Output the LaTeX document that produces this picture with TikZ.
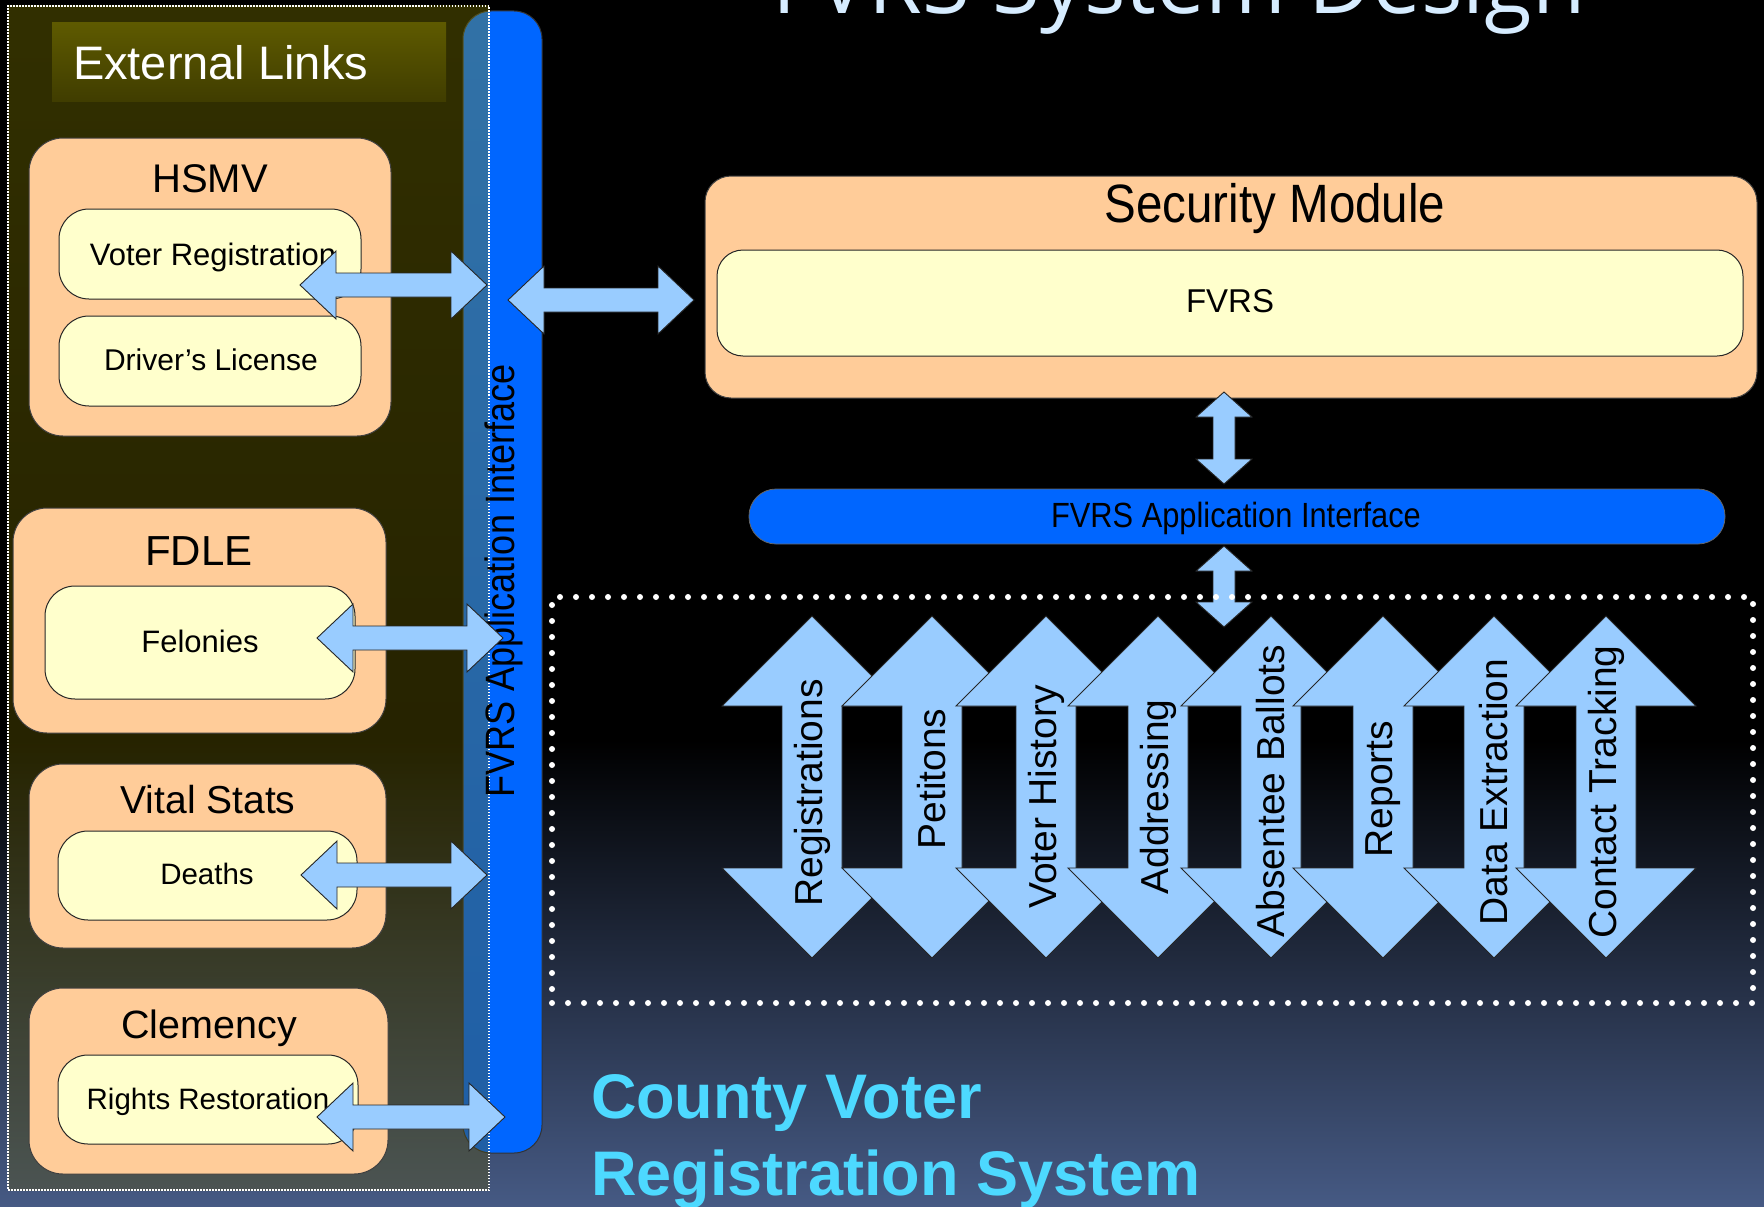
\documentclass[tikz,border=0pt]{standalone}
\usepackage{fontspec}
\setmainfont{Liberation Sans}
\newfontfamily\narrowf[FakeStretch=0.88]{Liberation Sans}
\newfontfamily\titlef{Open Sans}
\usetikzlibrary{calc}
\definecolor{peach}{HTML}{FFCC99}
\definecolor{lightyel}{HTML}{FFFFCC}
\definecolor{arrowblue}{HTML}{99CCFF}
\definecolor{barblue}{HTML}{0066FF}
\definecolor{paneltop}{RGB}{143,137,0}
\definecolor{panelbot}{RGB}{90,80,0}
\definecolor{hdrtop}{RGB}{94,90,0}
\definecolor{hdrbot}{RGB}{64,61,0}
\definecolor{bgbottom}{RGB}{70,90,132}
\definecolor{countycyan}{RGB}{77,217,255}
\definecolor{titlecol}{RGB}{214,236,255}
\tikzset{
  box/.style={inner sep=0pt, outer sep=0pt, anchor=north west},
  outerbox/.style={box, draw=black!75, line width=1pt, fill=peach, rounded corners=34pt},
  innerbox/.style={box, draw=black!85, line width=1pt, fill=lightyel, rounded corners=30pt},
  lbl/.style={inner sep=0pt, outer sep=0pt, anchor=base, text=black},
  fatarrow/.style={draw=black!85, line width=0.9pt, fill=arrowblue, line join=miter},
}
% horizontal fat double arrow between two named points (left tip, right tip)
\newcommand\hfat[2]{%
  \draw[fatarrow] let \p1=(#1), \p2=(#2) in
  (\x1,\y1) -- (\x1+36pt,\y1+34pt) -- (\x1+36pt,\y1+12pt) -- (\x2-36pt,\y1+12pt)
  -- (\x2-36pt,\y1+34pt) -- (\x2,\y1) -- (\x2-36pt,\y1-34pt) -- (\x2-36pt,\y1-12pt)
  -- (\x1+36pt,\y1-12pt) -- (\x1+36pt,\y1-34pt) -- cycle;}
% vertical fat double arrow: top tip, bottom tip, head length, head half width, shaft half width
\newcommand\vfat[5]{%
  \draw[fatarrow] let \p1=(#1), \p2=(#2) in
  (\x1,\y1) -- (\x1+#4,\y1-#3) -- (\x1+#5,\y1-#3) -- (\x1+#5,\y2+#3)
  -- (\x1+#4,\y2+#3) -- (\x1,\y2) -- (\x1-#4,\y2+#3) -- (\x1-#5,\y2+#3)
  -- (\x1-#5,\y1-#3) -- (\x1-#4,\y1-#3) -- cycle;}
\begin{document}
\begin{tikzpicture}[x=1pt,y=-1pt]
\useasboundingbox (0,0) rectangle (1764,1207);
\fill[black] (0,0) rectangle (1764,1207);
\shade[top color=black,bottom color=bgbottom] (0,740) rectangle (1764,1207);

% title (cut off at the top, as in the reference)
\node[lbl, anchor=base west, text=titlecol, font=\titlef\fontsize{87}{100}\selectfont] (title) at (772,14) {FVRS System Design};

% vertical application interface bar
\node[box, fill=barblue, draw=black!80, line width=1pt, rounded corners=28pt,
      minimum width=79pt, minimum height=1142pt] (vbar) at (463,11) {};

% external links panel
\node[box, top color=paneltop, middle color=paneltop, bottom color=panelbot, fill opacity=0.35,
      minimum width=481pt, minimum height=1184pt] (panelfill) at (8,6) {};
\node[box, draw=white, line width=1.2pt, dash pattern=on 1.5pt off 1.5pt,
      minimum width=481pt, minimum height=1184pt] (panel) at (8,6) {};
\node[box, top color=hdrtop, bottom color=hdrbot, minimum width=394pt, minimum height=78pt] (hdr) at (52,23) {};
\node[lbl, anchor=base west, text=white, font=\fontsize{47}{56}\selectfont] (hdrtxt) at (73,80) {External Links};

% HSMV
\node[outerbox, minimum width=362pt, minimum height=298pt] (hsmv) at (29,138) {};
\node[lbl, font=\fontsize{40}{48}\selectfont] (hsmvt) at (210,192) {HSMV};
\node[innerbox, minimum width=302pt, minimum height=90pt] (vreg) at (59,209) {};
\node[lbl, font=\fontsize{31}{37}\selectfont] (vregt) at (213,265) {Voter Registration};
\node[innerbox, minimum width=302pt, minimum height=90pt] (dlic) at (59,316) {};
\node[lbl, font=\fontsize{30}{36}\selectfont] (dlict) at (211,370) {Driver’s License};

% FDLE
\node[outerbox, minimum width=373pt, minimum height=225pt] (fdle) at (13,508) {};
\node[lbl, font=\fontsize{42}{50}\selectfont] (fdlet) at (199,565) {FDLE};
\node[innerbox, minimum width=310pt, minimum height=113pt] (fel) at (45,586) {};
\node[lbl, font=\fontsize{31}{37}\selectfont] (felt) at (200,652) {Felonies};

% Vital Stats
\node[outerbox, minimum width=357pt, minimum height=184pt] (vital) at (29,764) {};
\node[lbl, font=\fontsize{39}{47}\selectfont] (vitalt) at (208,813) {Vital Stats};
\node[innerbox, minimum width=299pt, minimum height=89pt] (deaths) at (58,831) {};
\node[lbl, font=\fontsize{29.5}{35}\selectfont] (deathst) at (207,884) {Deaths};

% Clemency
\node[outerbox, minimum width=359pt, minimum height=186pt] (clem) at (29,988) {};
\node[lbl, font=\fontsize{39.5}{47}\selectfont] (clemt) at (209,1038) {Clemency};
\node[innerbox, minimum width=300pt, minimum height=89pt] (rights) at (58,1055) {};
\node[lbl, font=\fontsize{29.5}{35}\selectfont] (rightst) at (208,1109) {Rights Restoration};

% vertical bar text
\node[lbl, rotate=90, font=\narrowf\fontsize{41}{48}\selectfont] (vbart) at (514,581) {FVRS Application Interface};

% arrows from external links to the interface bar
\coordinate (hsmvA) at (300,285); \coordinate (hsmvB) at (487,285);
\coordinate (felA) at (317,638);  \coordinate (felB) at (503,638);
\coordinate (deaA) at (301,875);  \coordinate (deaB) at (487,875);
\coordinate (rigA) at (317,1117); \coordinate (rigB) at (505,1117);
\hfat{hsmvA}{hsmvB}
\hfat{felA}{felB}
\hfat{deaA}{deaB}
\hfat{rigA}{rigB}

% security module
\node[outerbox, rounded corners=26pt, minimum width=1052pt, minimum height=222pt] (sec) at (705,176) {};
\node[lbl, font=\narrowf\fontsize{54}{64}\selectfont] (sect) at (1275,222) {Security Module};
\node[innerbox, rounded corners=26pt, minimum width=1026pt, minimum height=106pt] (fvrs) at (717,250) {};
\node[lbl, font=\fontsize{33}{40}\selectfont] (fvrst) at (1230,312) {FVRS};

% arrow bar <-> security module
\coordinate (secA) at (508,300); \coordinate (secB) at (694,300);
\hfat{secA}{secB}

% horizontal interface bar
\node[box, fill=barblue, draw=black!60, line width=0.8pt, rounded corners=27pt,
      minimum width=976pt, minimum height=55pt] (ibar) at (749,489) {};
\node[lbl, font=\narrowf\fontsize{35}{42}\selectfont] (ibart) at (1236,527) {FVRS Application Interface};

% vertical arrows
\coordinate (v1t) at (1224,392); \coordinate (v1b) at (1224,484);
\coordinate (v2t) at (1224,546); \coordinate (v2b) at (1224,627);
\vfat{v1t}{v1b}{25pt}{28pt}{11pt}
\vfat{v2t}{v2b}{25pt}{28pt}{11pt}

% county function arrows
\foreach \cx/\cy/\t [count=\i] in {812/793/Registrations, 932/779/Petitons, 1046/797/Voter History,
    1158/797/Addressing, 1271/791/Absentee Ballots, 1383/789/Reports, 1494/792/Data Extraction,
    1606/792/Contact Tracking}{
  \coordinate (cat\i) at (\cx,616);
  \coordinate (cab\i) at (\cx,958);
  \vfat{cat\i}{cab\i}{90pt}{90pt}{30pt}
  \node[lbl, anchor=center, rotate=90, font=\fontsize{39}{47}\selectfont] (ca\i) at (\cx,\cy) {\t};
}

% dotted county box
\node[box, draw=white, line width=6pt, dash pattern=on 0pt off 16pt, line cap=round,
      minimum width=1201pt, minimum height=406pt] (county) at (552,597) {};

% county title
\node[lbl, anchor=base west, text=countycyan, font=\bfseries\fontsize{63}{76}\selectfont] (cv1) at (591,1118) {County Voter};
\node[lbl, anchor=base west, text=countycyan, font=\bfseries\fontsize{63}{76}\selectfont] (cv2) at (591,1195) {Registration System};
\end{tikzpicture}
\end{document}
